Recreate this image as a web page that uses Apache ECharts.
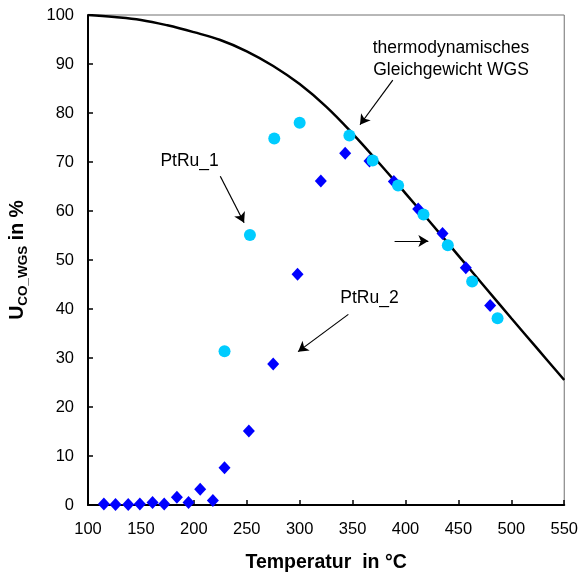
<!DOCTYPE html>
<html>
<head>
<meta charset="utf-8">
<script src="https://cdn.jsdelivr.net/npm/echarts@6/dist/echarts.min.js"></script>
<style>html,body{margin:0;padding:0;background:#fff;}#c{width:581px;height:578px;}</style>
</head>
<body>
<div id="c"></div>
<script>
// Thermodynamic equilibrium curve (WGS)
const eqT = [100,125,150,175,200,225,250,275,300,325,350,375,400,425,450,475,500,525,550];
const eqU = [100,99.6,99.0,97.9,96.5,94.9,92.6,89.6,85.9,81.3,75.8,69.8,63.6,57.3,50.9,44.5,38.1,31.8,25.5];
// PtRu_2 (diamonds)
const t2 = [115,126,138,149,161,172,184,195,206,218,229,252,275,298,320,343,366,389,412,435,457,480];
const u2 = [0.2,0.1,0.1,0.2,0.5,0.2,1.6,0.5,3.2,0.9,7.6,15.1,28.8,47.1,66.1,71.8,70.2,66.0,60.4,55.4,48.4,40.7];
// PtRu_1 (circles)
const t1 = [229,253,276,300,347,369,393,417,440,463,487];
const u1 = [31.4,55.1,74.8,78.0,75.4,70.3,65.2,59.3,53.0,45.6,38.1];
// Axis ticks
const xTicks = [100,150,200,250,300,350,400,450,500,550];
const yTicks = [0,10,20,30,40,50,60,70,80,90,100];
// Annotation arrows [from, to] in data coords
const arrows = [
  [[388,86.7],[357,77.6]],
  [[225,67.1],[247.5,57.6]],
  [[346,38.9],[298.5,31.3]],
  [[389.7,53.9],[421.6,53.9]]
];
// Annotation texts
const notes = [
  {text:'thermodynamisches', at:[443,93.3]},
  {text:'Gleichgewicht WGS', at:[443,88.8]},
  {text:'PtRu_1', at:[196,70.1]},
  {text:'PtRu_2', at:[366,42.2]}
];

const FONT = "Arial, 'Liberation Sans', sans-serif";
const chart = echarts.init(document.getElementById('c'), null, {renderer:'canvas'});
const option = {
  animation: false,
  backgroundColor: '#fff',
  grid: {left:86, right:15, top:15, bottom:73, show:true, borderColor:'#707070', borderWidth:1, backgroundColor:'transparent'},
  xAxis: {
    type:'value', min:xTicks[0], max:xTicks[xTicks.length-1], interval:50,
    name:'Temperatur  in °C', nameLocation:'middle', nameGap:48,
    nameTextStyle:{fontFamily:FONT, fontSize:19.5, fontWeight:'bold', color:'#000'},
    axisLine:{show:true, onZero:false, lineStyle:{color:'#000', width:2}},
    axisTick:{show:true, inside:true, length:5, lineStyle:{color:'#000', width:1.5}},
    axisLabel:{fontFamily:FONT, fontSize:16.5, color:'#000', margin:16},
    splitLine:{show:false}
  },
  yAxis: {
    type:'value', min:yTicks[0], max:yTicks[yTicks.length-1], interval:10,
    name:'{a|U}{s|CO_WGS}{a| in %}', nameLocation:'middle', nameGap:58,
    nameTextStyle:{
      rich:{
        a:{fontFamily:FONT, fontSize:19.5, fontWeight:'bold', color:'#000', lineHeight:22, verticalAlign:'top'},
        s:{fontFamily:FONT, fontSize:13.5, fontWeight:'bold', color:'#000', lineHeight:13, verticalAlign:'bottom'}
      }
    },
    axisLine:{show:true, onZero:false, lineStyle:{color:'#000', width:2}},
    axisTick:{show:true, inside:true, length:5, lineStyle:{color:'#000', width:1.5}},
    axisLabel:{fontFamily:FONT, fontSize:16.5, color:'#000', margin:14},
    splitLine:{show:false}
  },
  series: [
    {
      type:'line', name:'WGS', data: eqT.map((t,i)=>[t,eqU[i]]),
      smooth:0.4, showSymbol:false, symbol:'none',
      lineStyle:{color:'#000', width:2.5}, z:2,
      markLine:{
        silent:true, symbol:['none','arrow'], symbolSize:[9,10],
        lineStyle:{color:'#000', width:1.2, type:'solid'},
        label:{show:false},
        data: arrows.map(a=>[{coord:a[0]},{coord:a[1]}])
      }
    },
    {
      type:'scatter', name:'PtRu_2', data: t2.map((t,i)=>[t,u2[i]]),
      symbol:'diamond', symbolSize:[12,13], itemStyle:{color:'#0000FF', opacity:1}, z:3
    },
    {
      type:'scatter', name:'PtRu_1', data: t1.map((t,i)=>[t,u1[i]]),
      symbol:'circle', symbolSize:12, itemStyle:{color:'#00CCFF', opacity:1}, z:4
    }
  ]
};
chart.setOption(option);
const g = notes.map(n=>{
  const p = chart.convertToPixel({gridIndex:0}, n.at);
  return {type:'text', x:p[0], y:p[1], z:10,
    style:{text:n.text, fontFamily:FONT, fontSize:17.5, fill:'#000', align:'center', verticalAlign:'middle'}};
});
chart.setOption({graphic:g});
</script>
</body>
</html>
